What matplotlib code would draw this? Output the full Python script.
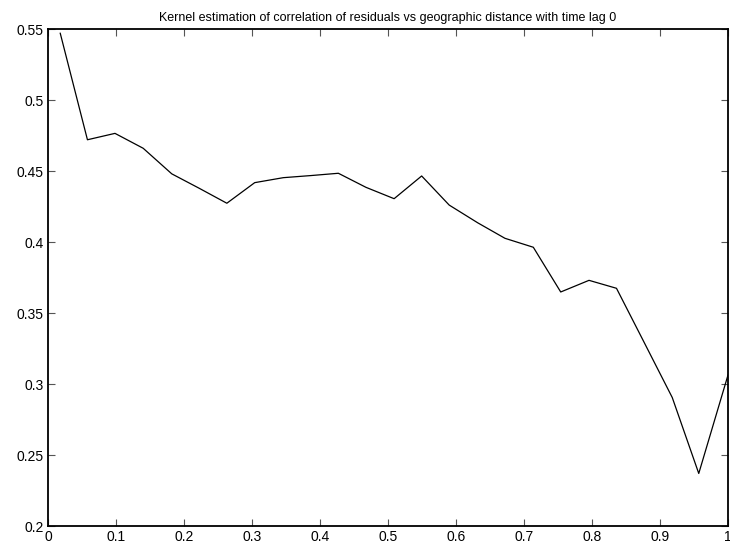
import matplotlib
matplotlib.use("Agg")
import matplotlib.pyplot as plt
from matplotlib.ticker import FuncFormatter

plt.rcParams['font.family'] = ['Liberation Sans', 'DejaVu Sans']

distance = [0.018, 0.058, 0.0985, 0.140, 0.182, 0.2225, 0.263, 0.304, 0.346, 0.387,
            0.427, 0.4676, 0.509, 0.5495, 0.590, 0.632, 0.672, 0.7137, 0.754, 0.7956,
            0.836, 0.877, 0.918, 0.957, 1.0]
correlation = [0.547, 0.472, 0.4765, 0.466, 0.448, 0.4378, 0.4273, 0.4418, 0.4453, 0.4468,
               0.4484, 0.4385, 0.4305, 0.4465, 0.426, 0.4135, 0.4026, 0.3963, 0.3648, 0.373,
               0.3674, 0.329, 0.2905, 0.237, 0.3063]
x_ticks = [0, 0.1, 0.2, 0.3, 0.4, 0.5, 0.6, 0.7, 0.8, 0.9, 1]
y_ticks = [0.2, 0.25, 0.3, 0.35, 0.4, 0.45, 0.5, 0.55]
title = "Kernel estimation of correlation of residuals vs geographic distance with time lag 0"

fig = plt.figure(figsize=(7.3, 5.52), dpi=100)
ax = fig.add_axes([48/730, 1-526/552, (728-48)/730, (526-29)/552])
ax.plot(distance, correlation, color='black', linewidth=0.9)
ax.set_xlim(0, 1)
ax.set_ylim(0.2, 0.55)
ax.set_xticks(x_ticks)
ax.set_yticks(y_ticks)
fmt = FuncFormatter(lambda v, p: "%g" % round(v, 3))
ax.xaxis.set_major_formatter(fmt)
ax.yaxis.set_major_formatter(fmt)
ax.tick_params(direction='in', length=5, width=0.8, color='#555555', top=True, right=True,
               labelsize=10, pad=3, labelcolor='black')
for s in ax.spines.values():
    s.set_linewidth(1.3)
ax.set_title(title, fontsize=9, pad=6)
fig.savefig("out.png", dpi=100)
